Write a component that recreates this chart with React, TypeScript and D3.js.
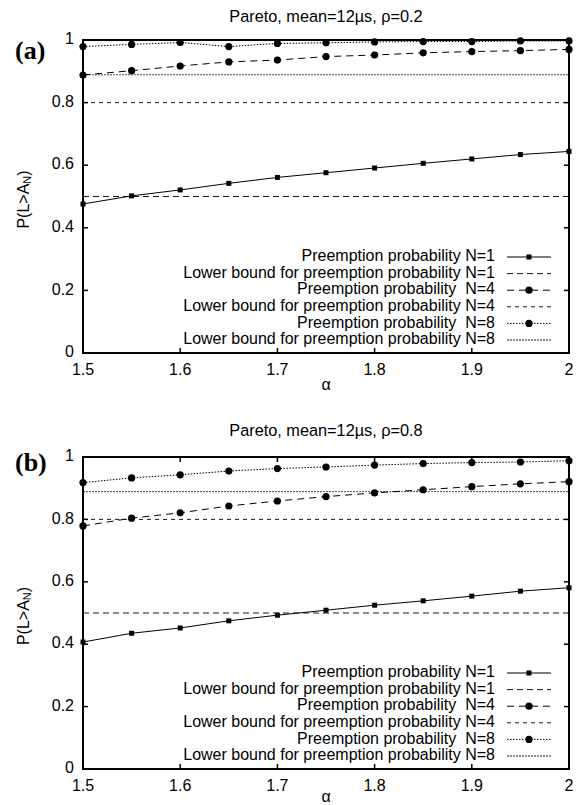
import React from "react";
import * as d3 from "d3";

const alphas = [1.5, 1.55, 1.6, 1.65, 1.7, 1.75, 1.8, 1.85, 1.9, 1.95, 2.0];

const aN1 = [0.476, 0.502, 0.521, 0.542, 0.561, 0.576, 0.591, 0.606, 0.62, 0.634, 0.644];
const aN4 = [0.888, 0.902, 0.917, 0.93, 0.936, 0.947, 0.952, 0.959, 0.963, 0.966, 0.97];
const aN8 = [0.979, 0.986, 0.992, 0.979, 0.989, 0.991, 0.994, 0.995, 0.995, 0.997, 0.997];

const bN1 = [0.407, 0.435, 0.452, 0.475, 0.493, 0.509, 0.525, 0.539, 0.554, 0.57, 0.581];
const bN4 = [0.779, 0.804, 0.821, 0.843, 0.859, 0.873, 0.885, 0.895, 0.905, 0.914, 0.921];
const bN8 = [0.918, 0.933, 0.943, 0.955, 0.963, 0.968, 0.974, 0.979, 0.982, 0.984, 0.988];

const bounds = [0.5, 0.8, 0.889];

const xTicks = [1.5, 1.6, 1.7, 1.8, 1.9, 2.0];
const yTicks = [0, 0.2, 0.4, 0.6, 0.8, 1];

const legendLabels = [
  "Preemption probability N=1",
  "Lower bound for preemption probability N=1",
  "Preemption probability  N=4",
  "Lower bound for preemption probability N=4",
  "Preemption probability  N=8",
  "Lower bound for preemption probability N=8",
];

const FONT = "'Liberation Sans', Arial, Helvetica, sans-serif";
const FS = 16;

const styles = [
  { dash: "none", marker: "square" },
  { dash: "6,4", marker: null },
  { dash: "7,5", marker: "circle" },
  { dash: "4,4", marker: null },
  { dash: "1.5,1.5", marker: "circle" },
  { dash: "2,1", marker: null },
];

function Marker({ kind, x, y }: { kind: string | null; x: number; y: number }) {
  if (kind === "square") return <rect x={x - 2.5} y={y - 2.5} width={5} height={5} fill="#000" />;
  if (kind === "circle") return <circle cx={x} cy={y} r={3.6} fill="#000" />;
  return null;
}

function Panel({
  title, label, top, bottom, n1, n4, n8, titleY, labelY, alphaY,
}: {
  title: string; label: string; top: number; bottom: number;
  n1: number[]; n4: number[]; n8: number[]; titleY: number; labelY: number; alphaY: number;
}) {
  const left = 83, right = 569;
  const x = d3.scaleLinear().domain([1.5, 2]).range([left, right]);
  const y = d3.scaleLinear().domain([0, 1]).range([bottom, top]);
  const line = d3.line<number>().x((_, i) => x(alphas[i])).y((d) => y(d));
  const series = [n1, null, n4, null, n8, null];
  const boundIdx = [1, 3, 5];
  const legendRight = 495;
  const rowY = (i: number) => bottom - 13 - (5 - i) * 16.6;
  return (
    <g>
      <text x={326} y={titleY} textAnchor="middle" fontFamily={FONT} fontSize={16.3} dominantBaseline="middle">{title}</text>
      <text x={15} y={labelY} fontFamily="'Liberation Serif', 'DejaVu Serif', serif" fontWeight="bold" fontSize={26} dominantBaseline="middle">{label}</text>
      <text transform={`translate(25,${(top + bottom) / 2 + 3}) rotate(-90)`} textAnchor="middle" fontFamily={FONT} fontSize={FS} dominantBaseline="middle">
        P(L&gt;A<tspan fontSize={11} dy={3}>N</tspan><tspan dy={-3}>)</tspan>
      </text>
      {bounds.map((b, k) => (
        <line key={"b" + k} x1={left} x2={right} y1={y(b)} y2={y(b)} stroke="#000" strokeWidth={k === 2 ? 0.7 : 0.9} strokeDasharray={styles[boundIdx[k]].dash} />
      ))}
      {series.map((s, k) => s ? (
        <g key={"s" + k}>
          <path d={line(s) || ""} fill="none" stroke="#000" strokeWidth={1} strokeDasharray={styles[k].dash} />
          {s.map((v, i) => <Marker key={i} kind={styles[k].marker} x={x(alphas[i])} y={y(v)} />)}
        </g>
      ) : null)}
      <rect x={left} y={top} width={right - left} height={bottom - top} fill="none" stroke="#000" strokeWidth={2} />
      {xTicks.map((t) => (
        <g key={"xt" + t}>
          <line x1={x(t)} x2={x(t)} y1={bottom} y2={bottom - 5} stroke="#000" strokeWidth={1.5} />
          <line x1={x(t)} x2={x(t)} y1={top} y2={top + 5} stroke="#000" strokeWidth={1.5} />
          <text x={x(t)} y={bottom + 18} textAnchor="middle" fontFamily={FONT} fontSize={FS} dominantBaseline="middle">{+t.toFixed(1)}</text>
        </g>
      ))}
      {yTicks.map((t) => (
        <g key={"yt" + t}>
          <line x1={left} x2={left + 5} y1={y(t)} y2={y(t)} stroke="#000" strokeWidth={1.5} />
          <line x1={right} x2={right - 5} y1={y(t)} y2={y(t)} stroke="#000" strokeWidth={1.5} />
          <text x={74} y={y(t)} textAnchor="end" fontFamily={FONT} fontSize={FS} dominantBaseline="middle">{+t.toFixed(1)}</text>
        </g>
      ))}
      <text x={326} y={alphaY} textAnchor="middle" fontFamily={FONT} fontSize={FS} dominantBaseline="middle">α</text>
      {legendLabels.map((l, i) => (
        <g key={"l" + i}>
          <text x={legendRight} y={rowY(i)} textAnchor="end" fontFamily={FONT} fontSize={FS} dominantBaseline="middle" style={{ whiteSpace: "pre" }}>{l}</text>
          <line x1={507} x2={551} y1={rowY(i)} y2={rowY(i)} stroke="#000" strokeWidth={i % 2 === 1 ? 0.9 : 1} strokeDasharray={styles[i].dash} />
          <Marker kind={styles[i].marker} x={529} y={rowY(i)} />
        </g>
      ))}
    </g>
  );
}

export default function App() {
  return (
    <svg width={579} height={805} style={{ position: "absolute", left: 0, top: 0, background: "#fff" }}>
      <rect width={579} height={805} fill="#fff" />
      <Panel title="Pareto, mean=12µs, ρ=0.2" label="(a)" top={40} bottom={353} n1={aN1} n4={aN4} n8={aN8} titleY={18} labelY={53} alphaY={386} />
      <Panel title="Pareto, mean=12µs, ρ=0.8" label="(b)" top={457} bottom={769} n1={bN1} n4={bN4} n8={bN8} titleY={432} labelY={465} alphaY={798} />
    </svg>
  );
}
